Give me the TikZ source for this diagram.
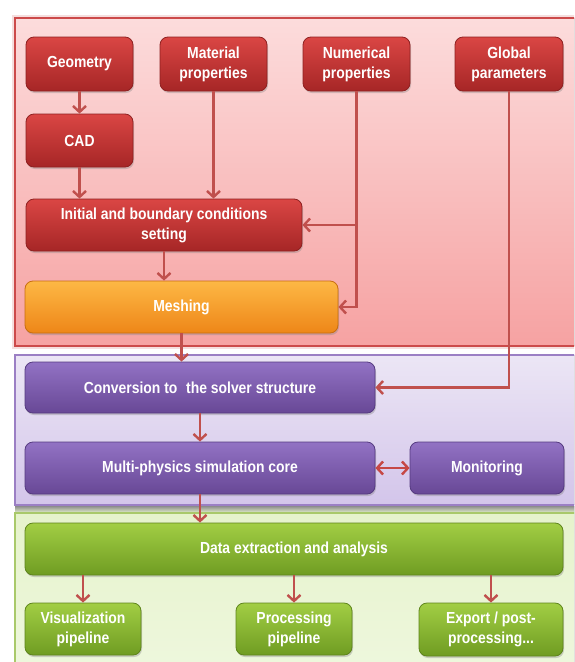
\documentclass[tikz,border=0pt]{standalone}
\usepackage{fontspec}
\setmainfont{Liberation Sans}[FakeStretch=0.87]
\usetikzlibrary{arrows.meta,shadows}
\definecolor{arrc}{HTML}{C0504D}
\definecolor{regRtop}{HTML}{FCDCDC}
\definecolor{regRbot}{HTML}{F6A2A2}
\definecolor{regRbd}{HTML}{CC4A4A}
\definecolor{regPtop}{HTML}{ECE6F5}
\definecolor{regPbot}{HTML}{D3C5EA}
\definecolor{regPbd}{HTML}{9B7FC4}
\definecolor{regGtop}{HTML}{E6F3CC}
\definecolor{regGbot}{HTML}{EEF7DD}
\definecolor{regGbd}{HTML}{A9C96A}
\definecolor{bRtop}{HTML}{DA4644}
\definecolor{bRbot}{HTML}{A62626}
\definecolor{bRbd}{HTML}{8E2020}
\definecolor{bOtop}{HTML}{FDB845}
\definecolor{bObot}{HTML}{EE8618}
\definecolor{bObd}{HTML}{C86E10}
\definecolor{bPtop}{HTML}{9272C4}
\definecolor{bPbot}{HTML}{684896}
\definecolor{bPbd}{HTML}{553A80}
\definecolor{bGtop}{HTML}{A2CE44}
\definecolor{bGbot}{HTML}{6F9C22}
\definecolor{bGbd}{HTML}{5E841C}
\tikzset{
  box/.style={rounded corners=8pt, line width=0.8pt, align=center, text=white,
    inner sep=2pt, font=\bfseries\fontsize{16}{20}\selectfont,
    drop shadow={shadow xshift=1pt, shadow yshift=-2pt, opacity=0.35}},
  redbox/.style={box, draw=bRbd, top color=bRtop, bottom color=bRbot},
  orangebox/.style={box, draw=bObd, top color=bOtop, bottom color=bObot},
  purplebox/.style={box, draw=bPbd, top color=bPtop, bottom color=bPbot},
  greenbox/.style={box, draw=bGbd, top color=bGtop, bottom color=bGbot},
  tipR/.tip={Straight Barb[length=6pt,width=13pt,line width=2.4pt]},
  arr/.style={draw=arrc, line width=2.6pt, -tipR},
  darr/.style={draw=arrc!90!red, line width=2.6pt, tipR-tipR},
}
\begin{document}
\begin{tikzpicture}[x=1pt,y=-1pt]
\useasboundingbox (0,0) rectangle (574,662);
\fill[white] (0,0) rectangle (574,662);
\begin{scope}
\clip (0,0) rectangle (574,662);
% red region
\draw[regRbd, line width=6pt, opacity=0.18] (15,18) rectangle (590,346);
\fill[top color=regRtop, bottom color=regRbot] (15,18) rectangle (590,346);
\draw[regRbd, line width=1.8pt] (15,18) rectangle (590,346);
% purple region
\fill[top color=regPtop, bottom color=regPbot] (15,355) rectangle (590,505);
\draw[regPbd, line width=1.8pt] (15,355) rectangle (590,505);
\fill[top color=black!45, bottom color=regGtop] (15,506) rectangle (590,513);
% green region
\fill[top color=regGtop, bottom color=regGbot] (15,513) rectangle (590,670);
\draw[regGbd, line width=1.8pt] (15,513) rectangle (590,670);
\end{scope}
% boxes
\node[redbox, minimum width=107pt, minimum height=54pt] (geo) at (79.5,64) {Geometry};
\node[redbox, minimum width=107pt, minimum height=54pt] (mat) at (213.5,64) {Material\\properties};
\node[redbox, minimum width=107pt, minimum height=54pt] (num) at (356.5,64) {Numerical\\properties};
\node[redbox, minimum width=108pt, minimum height=54pt] (glob) at (509,64) {Global\\parameters};
\node[redbox, minimum width=107pt, minimum height=53pt] (cad) at (79.5,140.5) {CAD};
\node[redbox, minimum width=276pt, minimum height=52pt] (init) at (164,225) {Initial and boundary conditions\\setting};
\node[orangebox, minimum width=313pt, minimum height=52pt] (mesh) at (181.5,307) {Meshing};
\node[purplebox, minimum width=350pt, minimum height=51pt] (conv) at (200,387.5) {Conversion to\hspace{0.3em} the solver structure};
\node[purplebox, minimum width=350pt, minimum height=52pt] (multi) at (200,468) {Multi-physics simulation core};
\node[purplebox, minimum width=154pt, minimum height=52pt] (mon) at (487,468) {Monitoring};
\node[greenbox, minimum width=538pt, minimum height=52pt] (data) at (294,549) {Data extraction and analysis};
\node[greenbox, minimum width=116pt, minimum height=52pt] (vis) at (83,629) {Visualization\\pipeline};
\node[greenbox, minimum width=116pt, minimum height=52pt] (proc) at (294,629) {Processing\\pipeline};
\node[greenbox, minimum width=144pt, minimum height=53pt] (exp) at (491,629.5) {Export / post-\\processing...};
% connectors
\draw[arr] (geo.south) -- (cad.north);
\draw[arr] (cad.south) -- (cad.south |- init.north);
\draw[arr] (mat.south) -- (mat.south |- init.north);
\draw[arr] (num.south) |- (mesh.east);
\draw[arr] (num.south |- init.east) -- (init.east);
\draw[arr] (init.south) -- (init.south |- mesh.north);
\draw[arr] (mesh.south) -- (mesh.south |- conv.north);
\draw[arr] (glob.south) |- (conv.east);
\draw[arr] (conv.south) -- (multi.north);
\draw[darr] (multi.east) -- (mon.west);
\draw[arr] (multi.south) -- (multi.south |- data.north);
\draw[arr] (vis.north |- data.south) -- (vis.north);
\draw[arr] (proc.north |- data.south) -- (proc.north);
\draw[arr] (exp.north |- data.south) -- (exp.north);
\end{tikzpicture}
\end{document}
